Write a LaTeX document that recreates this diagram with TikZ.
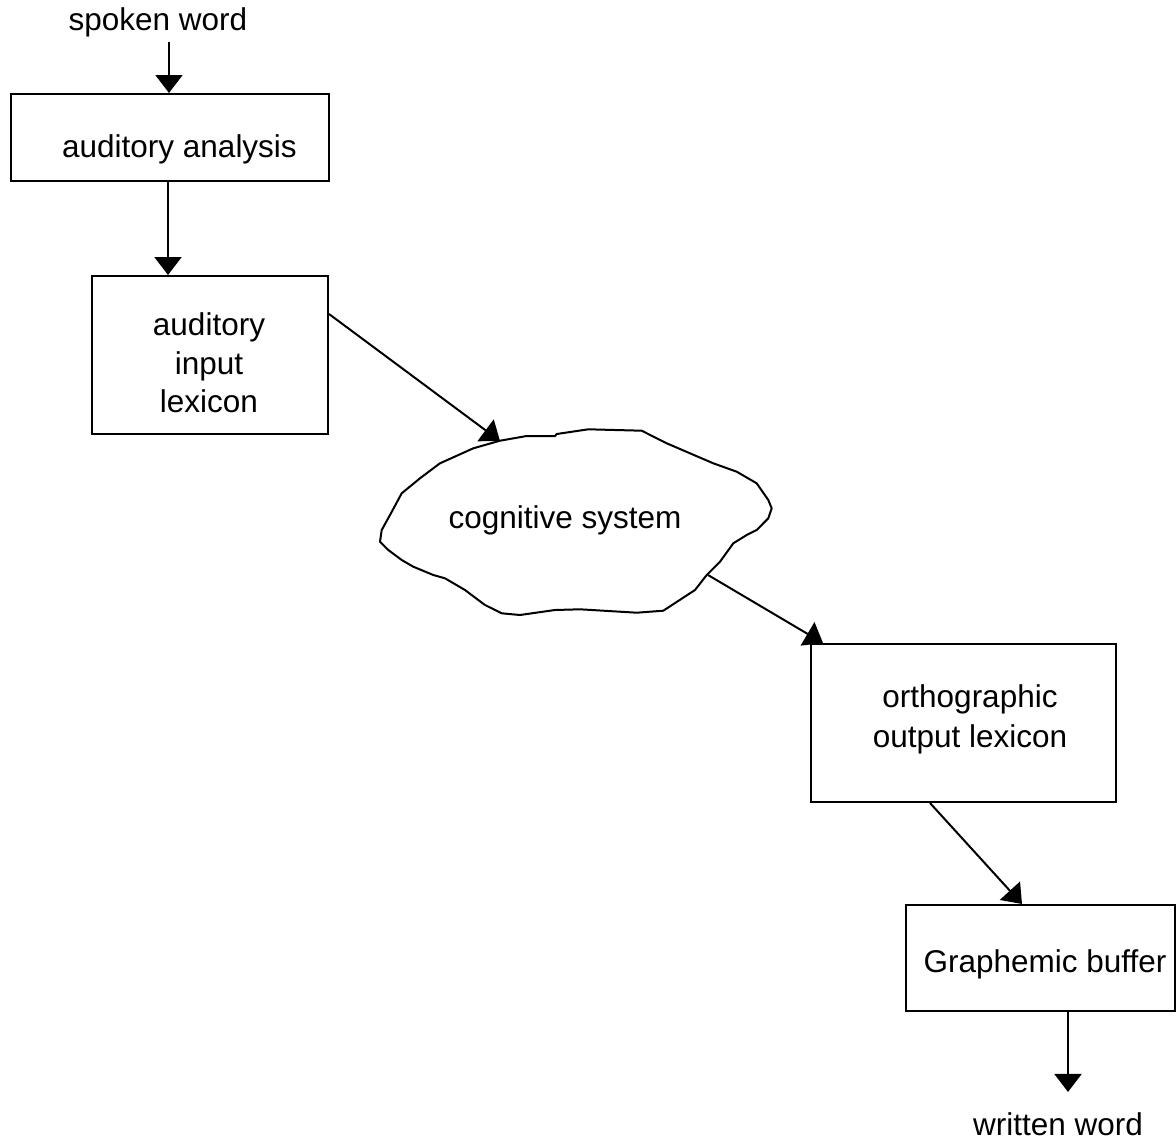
\documentclass[tikz,border=0pt]{standalone}
\usepackage{fontspec}
\setmainfont{Liberation Sans}
\usetikzlibrary{arrows.meta}
\begin{document}
\begin{tikzpicture}[x=1pt,y=-1pt,
  box/.style={draw, line width=2pt, inner sep=0pt},
  lbl/.style={font=\fontsize{31.5}{38.5}\selectfont, inner sep=0pt, anchor=base, align=center},
  arr/.style={line width=2pt, -{Triangle[length=18pt,width=27pt]}}]
\useasboundingbox (0,0) rectangle (1176,1141);

% boxes
\node[box, minimum width=318pt, minimum height=87pt] (aa) at (170,137.5) {};
\node[box, minimum width=236pt, minimum height=158pt] (aia) at (210,355) {};
\node[box, minimum width=305pt, minimum height=158pt] (ool) at (963.5,723) {};
\node[box, minimum width=269pt, minimum height=106pt] (gb) at (1040.5,958) {};

% cloud outline
\draw[line width=2pt, line join=round]
  (500,440.7) -- (526.7,436) -- (555,436) -- (556.7,434) -- (588.3,429.3)
  -- (641.7,430.7) -- (666.7,443.3) -- (713.3,463.3) -- (736.7,471.7)
  -- (756.7,483.3) -- (768.3,500) -- (771.7,508.3) -- (768.3,518.3)
  -- (756.7,530) -- (746.7,535) -- (733.3,543.3) -- (720,561.7)
  -- (706.7,575) -- (695,590) -- (663.3,610.7) -- (636.7,612.7)
  -- (580,609.3) -- (555,610) -- (520,615) -- (501.7,613.3) -- (485,605)
  -- (465,590) -- (445,578.3) -- (433.3,575) -- (413.3,566.7)
  -- (401.7,560) -- (388.3,550) -- (380,541.7) -- (381.7,530)
  -- (390,515) -- (401.7,493.3) -- (420,478.3) -- (440,463.3)
  -- (473.3,448.3) -- cycle;
\coordinate (cin) at (500,441);
\coordinate (cout) at (708,575);

% labels (multi-line labels are placed by their last baseline)
\node[lbl] (sw) at (158,30) {spoken word};
\node[lbl] (aat) at (179.5,157) {auditory analysis};
\node[lbl] (aiat) at (209,412.7) {auditory\\input\\lexicon};
\node[lbl] (cs) at (565,528.3) {cognitive system};
\node[lbl, font=\fontsize{31.5}{40}\selectfont] (oolt) at (970,747.5) {orthographic\\output lexicon};
\node[lbl] (gbt) at (1045,972) {Graphemic buffer};
\node[lbl] (ww) at (1058,1135) {written word};

% connectors
\draw[arr] ([xshift=11pt,yshift=-5pt]sw.south) -- ([xshift=-1pt]aa.north);
\draw[arr] ([xshift=-2pt]aa.south) -- ([xshift=-42pt]aia.north);
\draw[arr] ([yshift=41pt]aia.east) -- (cin);
\draw[arr] (cout) -- ([xshift=-140.5pt]ool.north);
\draw[arr] ([xshift=-33.5pt]ool.south) -- ([xshift=-18.5pt]gb.north);
\draw[arr] ([xshift=27.5pt]gb.south) -- ([xshift=10pt,yshift=20pt]ww.north);
\end{tikzpicture}
\end{document}
